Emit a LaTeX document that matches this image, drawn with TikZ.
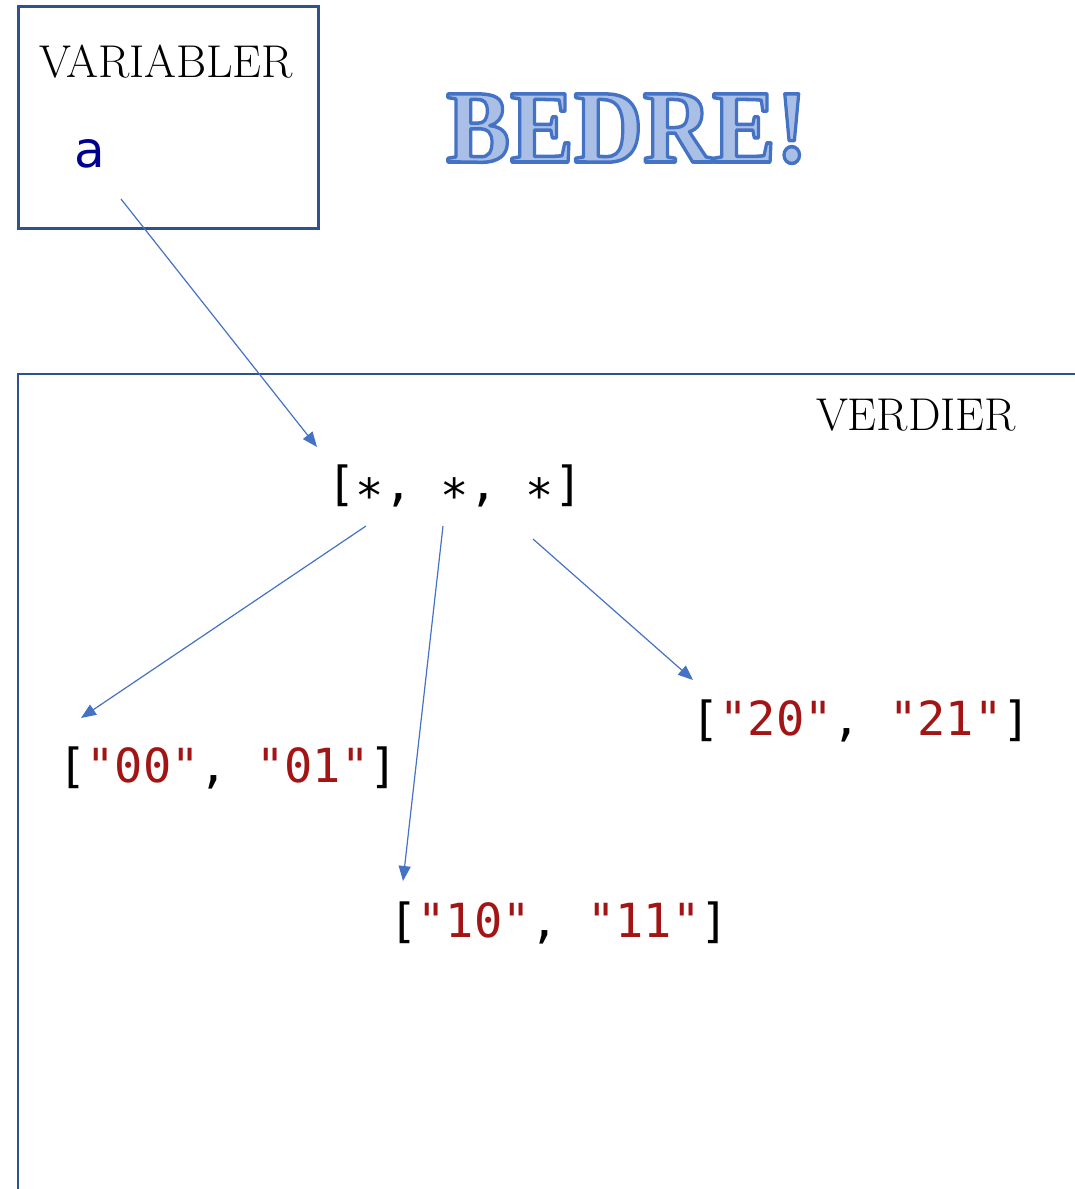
\documentclass[tikz,border=0pt]{standalone}
\usepackage{fontspec}
\usepackage{graphicx}
\usetikzlibrary{arrows.meta}
\newfontfamily\monofont{DejaVu Sans Mono}
\newfontfamily\asansfont{DejaVu Sans}
\newfontfamily\bedrefont{Liberation Serif}
\definecolor{boxblue}{HTML}{2F528F}
\definecolor{arrblue}{HTML}{4472C4}
\definecolor{strred}{HTML}{A31515}
\definecolor{varnavy}{HTML}{000090}
\definecolor{lightfill}{HTML}{A9BFE6}
\newcommand\midast{\raisebox{-0.26em}{*}}
\newcommand\sq[1]{\textcolor{strred}{#1}}
\newcommand\outlined[1]{\textcolor{lightfill}{\special{pdf:code 2 Tr 3.5 w 1 j 0.267 0.447 0.769 RG}#1\special{pdf:code 0 Tr 1 w}}}
\tikzset{
  frame/.style={draw=boxblue, line width=2.5pt},
  title/.style={font=\fontsize{46}{52}\selectfont, text=black, inner sep=0pt, anchor=base},
  code/.style={font=\monofont\fontsize{47}{54}\selectfont, text=black, inner sep=0pt, anchor=base},
  conn/.style={draw=arrblue, line width=1.2pt, -{Triangle[length=15pt,width=12pt]}},
}
\begin{document}
\begin{tikzpicture}[x=1pt,y=-1pt]
\useasboundingbox (0,0) rectangle (1074,1189);
% variable box
\node[frame, anchor=north west, minimum width=300pt, minimum height=222pt, inner sep=0pt] (varbox) at (17,5) {};
\node[title] (vartitle) at (166,77) {VARIABLER};
\node[font=\asansfont\fontsize{50}{56}\selectfont, text=varnavy, inner sep=0pt, anchor=base] (va) at (90,167) {a};
% values area
\draw[frame] (18,1195) |- (1080,374);
\node[title] (valtitle) at (916,430) {VERDIER};
% BEDRE
\node[inner sep=0pt, anchor=base, xscale=0.92] (bedre) at (627,162)
  {\bedrefont\bfseries\fontsize{104}{110}\selectfont\outlined{BEDRE!}};
% lists
\node[code] (outer) at (455,500) {[\midast, \midast, \midast]};
\node[code] (l0) at (228,782) {[\sq{"00"}, \sq{"01"}]};
\node[code] (l1) at (559,937) {[\sq{"10"}, \sq{"11"}]};
\node[code] (l2) at (861,735) {[\sq{"20"}, \sq{"21"}]};
% connector end points
\coordinate (a1s) at (121,199);
\coordinate (a1e) at (317,447);
\coordinate (a2s) at (366,526);
\coordinate (a2e) at (81,718);
\coordinate (a3s) at (443,526);
\coordinate (a3e) at (403,881);
\coordinate (a4s) at (533,539);
\coordinate (a4e) at (693,680);
\draw[conn] (a1s) -- (a1e);
\draw[conn] (a2s) -- (a2e);
\draw[conn] (a3s) -- (a3e);
\draw[conn] (a4s) -- (a4e);
\end{tikzpicture}
\end{document}
